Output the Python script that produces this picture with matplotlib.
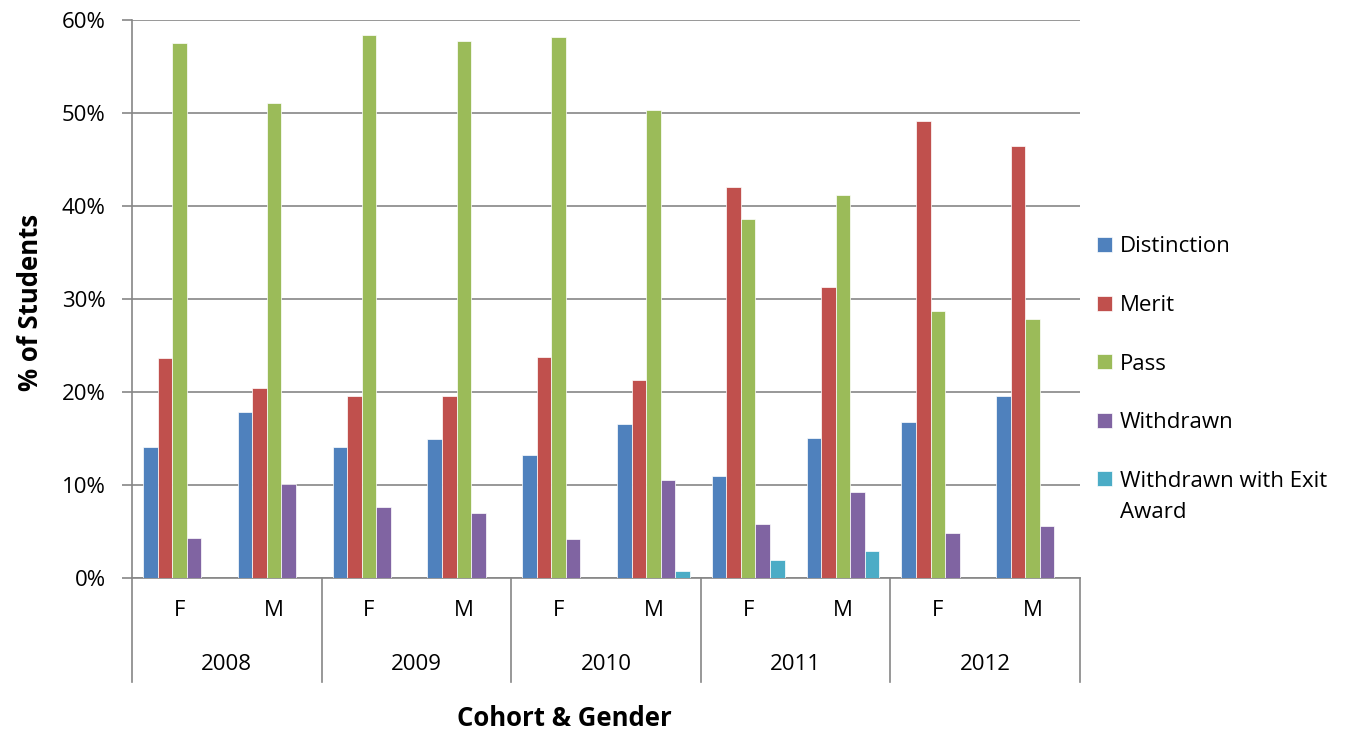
import matplotlib
matplotlib.use("Agg")
import matplotlib.pyplot as plt
import matplotlib.transforms as mtransforms
import numpy as np

# data (% of students)
years = ["2008", "2009", "2010", "2011", "2012"]
genders = ["F", "M"]
series_names = ["Distinction", "Merit", "Pass", "Withdrawn", "Withdrawn with Exit"]
label_wrap = "Award"  # second line of the last legend label
distinction = [14.1, 17.9, 14.1, 15.0, 13.2, 16.6, 11.0, 15.1, 16.8, 19.6]
merit = [23.7, 20.4, 19.6, 19.6, 23.8, 21.3, 42.0, 31.3, 49.1, 46.4]
pass_ = [57.5, 51.1, 58.4, 57.7, 58.2, 50.3, 38.6, 41.2, 28.7, 27.9]
withdrawn = [4.3, 10.1, 7.6, 7.0, 4.2, 10.5, 5.8, 9.2, 4.8, 5.6]
exit_award = [0, 0, 0, 0, 0, 0.8, 1.9, 2.9, 0, 0]

colors = ["#4F81BD", "#C0504D", "#9BBB59", "#8064A2", "#4BACC6"]
plt.rcParams["font.family"] = ["Open Sans", "DejaVu Sans"]
FS = 16

fig = plt.figure(figsize=(13.62, 7.33), dpi=100)
W, H = 1362, 733
ax = fig.add_axes([132 / W, (H - 578) / H, 948 / W, 558 / H])

x = np.arange(len(distinction))
bw = 1 / 6.5
all_series = [distinction, merit, pass_, withdrawn, exit_award]
handles = []
for i, (vals, c) in enumerate(zip(all_series, colors)):
    b = ax.bar(x + (i - 2) * bw, vals, width=bw, color=c,
               edgecolor="white", linewidth=0.5, zorder=3)
    handles.append(b)

ax.set_xlim(-0.5, len(x) - 0.5)
ax.set_ylim(0, 60)
ax.set_yticks(range(0, 61, 10))
ax.set_yticklabels([f"{v}%" for v in range(0, 61, 10)], fontsize=FS)
ax.yaxis.grid(True, color="#868686", linewidth=1.2, zorder=0)
ax.set_axisbelow(True)
for s in ["top", "right"]:
    ax.spines[s].set_visible(False)
for s in ["left", "bottom"]:
    ax.spines[s].set_color("#868686")
    ax.spines[s].set_linewidth(1.2)
ax.tick_params(axis="y", direction="out", length=7, width=1.2, color="#868686", pad=12)

# two level category axis
ax.set_xticks(x)
ax.set_xticklabels(genders * len(years), fontsize=FS)
ax.tick_params(axis="x", length=0, pad=16)
trans = mtransforms.blended_transform_factory(ax.transData, ax.transAxes)
for j, yr in enumerate(years):
    ax.text(2 * j + 0.5, -(665 - 578) / 558, yr, transform=trans,
            ha="center", va="center", fontsize=FS)
for b in np.arange(-0.5, len(x), 2):
    ax.plot([b, b], [0, -(682 - 578) / 558], transform=trans, color="#868686",
            linewidth=1.2, clip_on=False)

fig.text(564 / W, 1 - 718 / H, "Cohort & Gender", ha="center", va="center",
         fontsize=18.5, fontweight="bold")
fig.text(31 / W, 1 - 302 / H, "% of Students", ha="center", va="center",
         rotation=90, fontsize=18.5, fontweight="bold")

leg = fig.legend(handles, series_names, loc="center left", bbox_to_anchor=(1097 / W, 1 - 364 / H),
                 frameon=False, fontsize=FS, borderpad=0, borderaxespad=0,
                 handlelength=0.68, handleheight=0.68, handletextpad=0.35, labelspacing=1.69)

# wrapped second line of the last legend entry, under its first line
fig.canvas.draw()
bb = leg.get_texts()[-1].get_window_extent()
fig.text(bb.x0 / W, (bb.y0 - 31) / H, label_wrap, ha="left", va="bottom", fontsize=FS)

fig.savefig("out.png", dpi=100)
